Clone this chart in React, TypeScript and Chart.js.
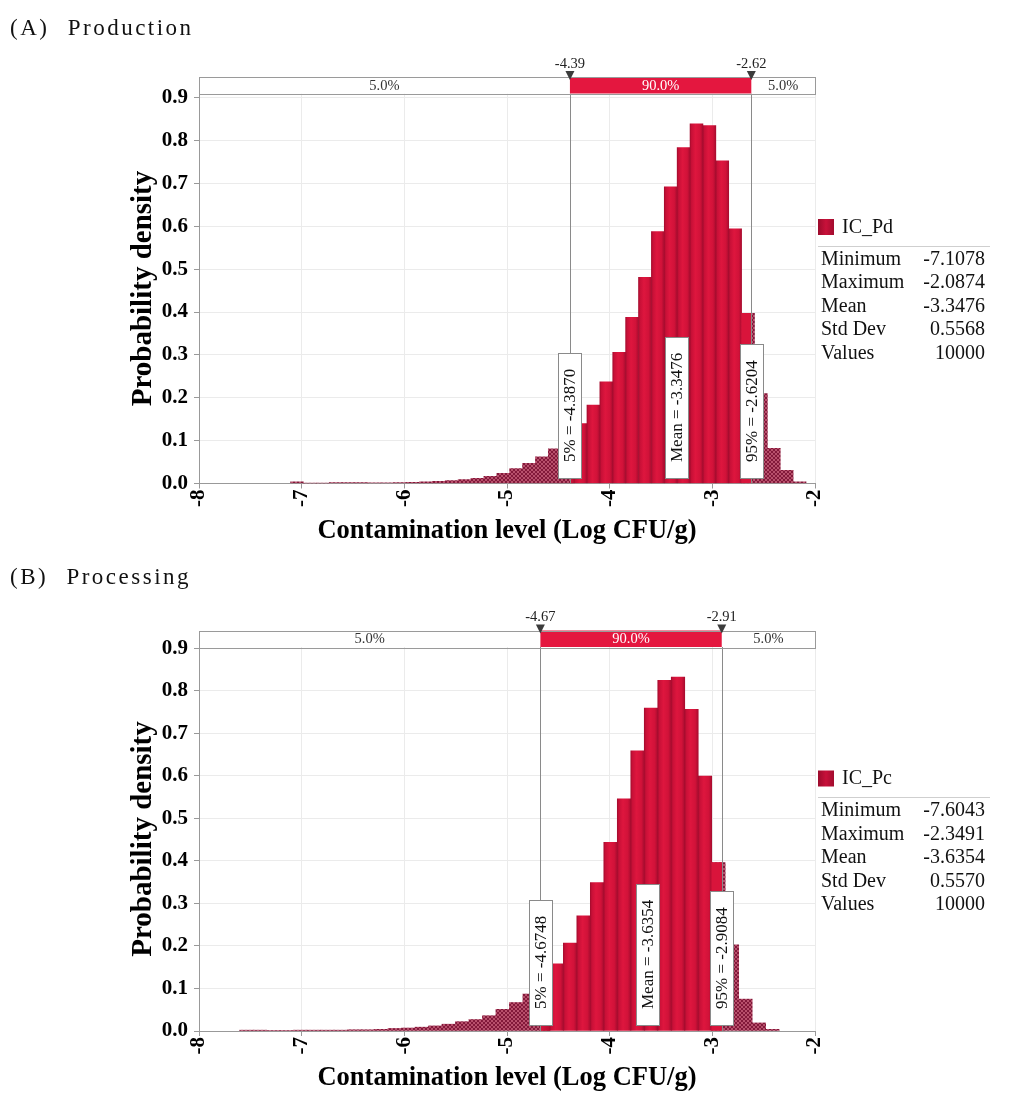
import React, { useEffect, useRef } from "react";
import { Chart, registerables } from "chart.js";

Chart.register(...registerables);

const FONT = '"Liberation Serif", "Times New Roman", serif';
Chart.defaults.font.family = FONT;

// ---- shared axis / label data ----
const X_TICKS = [-8, -7, -6, -5, -4, -3, -2];
const Y_TICKS = [0, 0.1, 0.2, 0.3, 0.4, 0.5, 0.6, 0.7, 0.8, 0.9];
const BAND_LABELS = ["5.0%", "90.0%", "5.0%"];
const STAT_LABELS = ["Minimum", "Maximum", "Mean", "Std Dev", "Values"];

// ---- (A) Production : IC_Pd ----
const PD_HEIGHTS = [
  0.004, 0.0005, 0.0005, 0.002, 0.002, 0.002, 0.0015, 0.0015, 0.002, 0.003,
  0.004, 0.005, 0.007, 0.009, 0.012, 0.017, 0.024, 0.035, 0.047, 0.062,
  0.081, 0.108, 0.140, 0.183, 0.237, 0.306, 0.388, 0.481, 0.588, 0.692,
  0.784, 0.839, 0.835, 0.753, 0.594, 0.397, 0.210, 0.082, 0.031, 0.004,
];
const PD_STATS = [-7.1078, -2.0874, -3.3476, 0.5568, 10000];
const PD_PERCENTILES = [-4.387, -2.6204];

// ---- (B) Processing : IC_Pc ----
const PC_HEIGHTS = [
  0.002, 0.002, 0.001, 0.001, 0.002, 0.002, 0.002, 0.002, 0.003, 0.003,
  0.004, 0.006, 0.007, 0.009, 0.012, 0.016, 0.022, 0.027, 0.036, 0.051,
  0.067, 0.087, 0.115, 0.158, 0.207, 0.271, 0.349, 0.444, 0.546, 0.659,
  0.760, 0.825, 0.833, 0.757, 0.600, 0.396, 0.203, 0.075, 0.019, 0.004,
];
const PC_STATS = [-7.6043, -2.3491, -3.6354, 0.557, 10000];
const PC_PERCENTILES = [-4.6748, -2.9084];

type Spec = {
  title: string;
  name: string;
  heights: number[];
  stats: number[];
  pct: number[];
  yMax: number;
  padTop: number;
  xAxisH: number;
  legendTop: number;
  canvasTop: number;
  titleTop: number;
};

const PANELS: Spec[] = [
  {
    title: "(A) Production",
    name: "IC_Pd",
    heights: PD_HEIGHTS,
    stats: PD_STATS,
    pct: PD_PERCENTILES,
    yMax: 0.91,
    padTop: 93.5,
    xAxisH: 63.5,
    legendTop: 219,
    canvasTop: 0,
    titleTop: 14,
  },
  {
    title: "(B) Processing",
    name: "IC_Pc",
    heights: PC_HEIGHTS,
    stats: PC_STATS,
    pct: PC_PERCENTILES,
    yMax: 0.9035,
    padTop: 100,
    xAxisH: 63,
    legendTop: 223.5,
    canvasTop: 547,
    titleTop: 563,
  },
];

const BAR_SHADE: [number, string][] = [
  [0, "#a60c2e"],
  [0.12, "#c81037"],
  [0.42, "#de163e"],
  [0.78, "#d11239"],
  [1, "#a90c2f"],
];
const BAR_MID = "#d9143b";
const TRANSPARENT = "rgba(0,0,0,0)";

function fmtStat(v: number, i: number) {
  return i === 4 ? String(v) : v.toFixed(4);
}

function makeOverlay(spec: Spec) {
  return {
    id: "overlay",
    afterDatasetsDraw(chart: any) {
      const { ctx, chartArea: a } = chart;
      const xs = chart.scales.x;
      const [p5, p95] = spec.pct;
      const mean = spec.stats[2];
      const x5 = xs.getPixelForValue(p5);
      const x95 = xs.getPixelForValue(p95);
      const xm = xs.getPixelForValue(mean);
      ctx.save();
      ctx.strokeStyle = "#8a8a8a";
      ctx.lineWidth = 1;
      [x5, x95].forEach((px: number) => {
        const sx = Math.round(px) + 0.5;
        ctx.beginPath();
        ctx.moveTo(sx, a.top);
        ctx.lineTo(sx, a.bottom);
        ctx.stroke();
      });
      ctx.font = `17px ${FONT}`;
      const boxes: [number, string][] = [
        [x5, `5% = ${p5.toFixed(4)}`],
        [xm, `Mean = ${mean.toFixed(4)}`],
        [x95, `95% = ${p95.toFixed(4)}`],
      ];
      boxes.forEach(([px, text]) => {
        const w = ctx.measureText(text).width;
        const h = Math.round(w + 32);
        const bw = 23;
        const bottom = Math.round(a.bottom - 6);
        const left = Math.round(px - bw / 2) + 0.5;
        const top = bottom - h + 0.5;
        ctx.fillStyle = "#ffffff";
        ctx.fillRect(left, top, bw, h);
        ctx.strokeStyle = "#8a8a8a";
        ctx.strokeRect(left, top, bw, h);
        ctx.save();
        ctx.translate(px + 1, bottom - 16);
        ctx.rotate(-Math.PI / 2);
        ctx.fillStyle = "#111";
        ctx.textAlign = "left";
        ctx.textBaseline = "middle";
        ctx.fillText(text, 0, 0);
        ctx.restore();
      });
      ctx.restore();
    },
    afterDraw(chart: any) {
      const { ctx, chartArea: a } = chart;
      const xs = chart.scales.x;
      const [p5, p95] = spec.pct;
      const x5 = xs.getPixelForValue(p5);
      const x95 = xs.getPixelForValue(p95);
      ctx.save();
      // probability band
      const bh = 16.5;
      const bt = a.top - bh;
      ctx.fillStyle = "#ffffff";
      ctx.fillRect(a.left, bt, a.right - a.left, bh);
      ctx.fillStyle = "#e4173f";
      ctx.fillRect(x5, bt, x95 - x5, bh);
      ctx.strokeStyle = "#9a9a9a";
      ctx.lineWidth = 1;
      ctx.strokeRect(Math.round(a.left) + 0.5, Math.round(bt) + 0.5, Math.round(a.right - a.left), Math.round(bh));
      ctx.font = `14.5px ${FONT}`;
      ctx.textAlign = "center";
      ctx.textBaseline = "middle";
      const cy = bt + bh / 2 + 0.5;
      ctx.fillStyle = "#333";
      ctx.fillText(BAND_LABELS[0], (a.left + x5) / 2, cy);
      ctx.fillText(BAND_LABELS[2], (x95 + a.right) / 2, cy);
      ctx.fillStyle = "#ffffff";
      ctx.fillText(BAND_LABELS[1], (x5 + x95) / 2, cy);
      // markers
      [
        [x5, p5],
        [x95, p95],
      ].forEach(([px, v]) => {
        ctx.fillStyle = "#3c3c3c";
        ctx.beginPath();
        ctx.moveTo(px - 4.5, bt - 6);
        ctx.lineTo(px + 4.5, bt - 6);
        ctx.lineTo(px, bt + 3);
        ctx.closePath();
        ctx.fill();
        ctx.fillStyle = "#222";
        ctx.font = `14.5px ${FONT}`;
        ctx.fillText(v.toFixed(2), px, bt - 13);
      });
      // legend + stats
      const lt = spec.legendTop;
      const g = ctx.createLinearGradient(818, 0, 834, 0);
      g.addColorStop(0, "#9c0b2c");
      g.addColorStop(0.5, "#c8113a");
      g.addColorStop(1, "#a20c2e");
      ctx.fillStyle = g;
      ctx.fillRect(818, lt, 16, 16);
      ctx.fillStyle = "#111";
      ctx.font = `20px ${FONT}`;
      ctx.textAlign = "left";
      ctx.textBaseline = "middle";
      ctx.fillText(spec.name, 842, lt + 8.5);
      ctx.strokeStyle = "#cfcfcf";
      ctx.beginPath();
      ctx.moveTo(818, Math.round(lt + 26.5) + 0.5);
      ctx.lineTo(990, Math.round(lt + 26.5) + 0.5);
      ctx.stroke();
      ctx.font = `20px ${FONT}`;
      STAT_LABELS.forEach((lab, j) => {
        const y = lt + 40.5 + j * 23.5;
        ctx.textAlign = "left";
        ctx.fillText(lab, 821, y);
        ctx.textAlign = "right";
        ctx.fillText(fmtStat(spec.stats[j], j), 985, y);
      });
      ctx.restore();
    },
  };
}

function Panel({ spec }: { spec: Spec }) {
  const ref = useRef<HTMLCanvasElement | null>(null);
  useEffect(() => {
    const canvas = ref.current;
    if (!canvas) return;
    const ctx2 = canvas.getContext("2d")!;
    const n = spec.heights.length;
    const lo = spec.stats[0];
    const hi = spec.stats[1];
    const bw = (hi - lo) / n;
    const edge = (i: number) => lo + i * bw;
    const [p5, p95] = spec.pct;
    const isInside = (i: number) => edge(i + 1) > p5 && edge(i) < p95;
    const isOutside = (i: number) => edge(i) < p5 || edge(i + 1) > p95;

    const insideData = spec.heights.map((h, i) => ({ x: edge(i) + bw / 2, y: isInside(i) ? h : null }));
    const outsideData = spec.heights.map((h, i) => ({ x: edge(i) + bw / 2, y: isOutside(i) ? h : null }));

    // hatched fill for the tails
    const pc = document.createElement("canvas");
    pc.width = 4;
    pc.height = 4;
    const pctx = pc.getContext("2d")!;
    pctx.fillStyle = "#b8506c";
    pctx.fillRect(0, 0, 4, 4);
    pctx.fillStyle = "#82193a";
    for (let i = 0; i < 4; i++) {
      pctx.fillRect(i, i, 1, 1);
      pctx.fillRect(3 - i, i, 1, 1);
    }
    const pattern = ctx2.createPattern(pc, "repeat");

    const insideColor = (c: any) => {
      const chart = c.chart;
      const xs = chart.scales && chart.scales.x;
      if (!xs || c.type !== "data" || c.dataIndex === undefined) return BAR_MID;
      const i = c.dataIndex;
      const l = xs.getPixelForValue(edge(i));
      const r = xs.getPixelForValue(edge(i + 1));
      if (!isFinite(l) || !isFinite(r) || r - l < 1) return BAR_MID;
      const fl = (xs.getPixelForValue(p5) - l) / (r - l);
      const fr = (xs.getPixelForValue(p95) - l) / (r - l);
      const g = chart.ctx.createLinearGradient(l, 0, r, 0);
      if (fl <= 0 && fr >= 1) {
        BAR_SHADE.forEach(([t, col]) => g.addColorStop(t, col));
      } else {
        const s = Math.max(0, Math.min(1, fl));
        const e = Math.max(0, Math.min(1, fr));
        g.addColorStop(0, s > 0 ? TRANSPARENT : BAR_MID);
        if (s > 0) {
          g.addColorStop(s, TRANSPARENT);
          g.addColorStop(s, BAR_MID);
        }
        if (e < 1) {
          g.addColorStop(e, BAR_MID);
          g.addColorStop(e, TRANSPARENT);
        }
        g.addColorStop(1, e < 1 ? TRANSPARENT : "#b70e31");
      }
      return g;
    };

    const tickFont = { family: FONT, size: 21, weight: "bold" as const };
    const chart = new Chart(canvas, {
      type: "bar",
      data: {
        datasets: [
          {
            label: spec.name,
            data: insideData as any,
            backgroundColor: insideColor as any,
            borderWidth: 0,
            barPercentage: 1,
            categoryPercentage: 1,
            stack: "s",
            order: 0,
          },
          {
            label: spec.name + " tails",
            data: outsideData as any,
            backgroundColor: (pattern || "#a03856") as any,
            borderWidth: 0,
            barPercentage: 1,
            categoryPercentage: 1,
            stack: "s",
            order: 1,
          },
        ],
      },
      options: {
        responsive: false,
        animation: false,
        devicePixelRatio: 1,
        layout: { padding: { left: 126, right: 209, top: spec.padTop, bottom: 0 } },
        plugins: { legend: { display: false }, tooltip: { enabled: false } },
        scales: {
          x: {
            type: "linear",
            min: -8,
            max: -2,
            offset: false,
            stacked: true,
            afterBuildTicks: (s: any) => {
              s.ticks = X_TICKS.map((v) => ({ value: v }));
            },
            afterFit: (s: any) => {
              s.height = spec.xAxisH;
            },
            ticks: {
              autoSkip: false,
              minRotation: 90,
              maxRotation: 90,
              padding: 1,
              color: "#000",
              font: tickFont,
              callback: (v: any) => String(v),
            },
            grid: { color: "#ebebeb", tickColor: "#999", tickLength: 5, offset: false },
            border: { color: "#999" },
            title: {
              display: true,
              text: "Contamination level (Log CFU/g)",
              color: "#000",
              font: { family: FONT, size: 26.5, weight: "bold" },
              padding: { top: 0, bottom: 0 },
            },
          },
          y: {
            type: "linear",
            min: 0,
            max: spec.yMax,
            stacked: false,
            afterBuildTicks: (s: any) => {
              s.ticks = Y_TICKS.map((v) => ({ value: v }));
            },
            afterFit: (s: any) => {
              s.width = 73;
            },
            ticks: {
              padding: 6,
              color: "#000",
              font: tickFont,
              callback: (v: any) => Number(v).toFixed(1),
            },
            grid: { color: "#ebebeb", tickColor: "#999", tickLength: 5 },
            border: { color: "#999" },
            title: {
              display: true,
              text: "Probability density",
              color: "#000",
              font: { family: FONT, size: 29, weight: "bold" },
              padding: { top: 0, bottom: 0 },
            },
          },
        },
      },
      plugins: [makeOverlay(spec)],
    });
    return () => chart.destroy();
  }, [spec]);

  return (
    <canvas
      ref={ref}
      width={1024}
      height={547}
      style={{ position: "absolute", left: 0, top: spec.canvasTop, width: 1024, height: 547, display: "block" }}
    />
  );
}

export default function App() {
  return (
    <div style={{ position: "absolute", left: 0, top: 0, width: 1024, height: 1094, background: "#ffffff", overflow: "hidden" }}>
      {PANELS.map((p) => (
        <Panel key={p.name} spec={p} />
      ))}
      {PANELS.map((p) => (
        <div
          key={p.title}
          style={{
            position: "absolute",
            left: 10,
            top: p.titleTop,
            fontFamily: FONT,
            fontSize: 23,
            lineHeight: "28px",
            letterSpacing: 2.5,
            wordSpacing: 10,
            whiteSpace: "nowrap",
            color: "#111",
          }}
        >
          {p.title}
        </div>
      ))}
    </div>
  );
}
